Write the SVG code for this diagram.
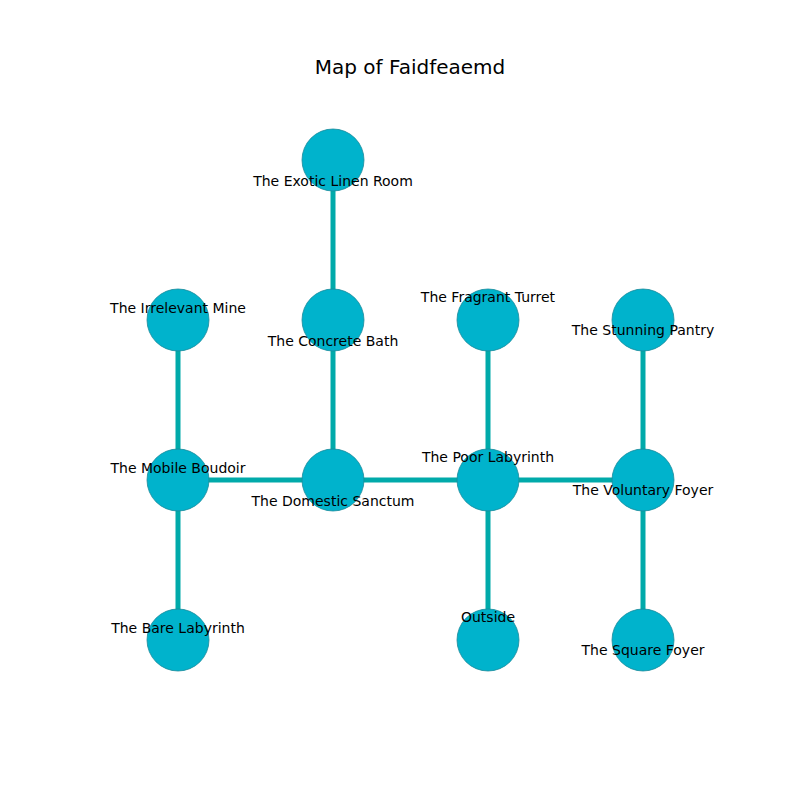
<svg xmlns="http://www.w3.org/2000/svg" width="800" height="800" viewBox="0 0 800 800">
<style>
.e{stroke:#00aaaa;stroke-width:5;fill:none}
.n circle{fill:#00b3cc;stroke:#1a8a9a;stroke-width:0.8}
text{font-family:"DejaVu Sans",sans-serif;font-size:14px;fill:#000;text-anchor:middle}
.t{font-size:20px}
</style>
<rect width="800" height="800" fill="#fff"/>
<text class="t" x="410" y="74">Map of Faidfeaemd</text>
<g id="edges">
<line class="e" x1="333" y1="160" x2="333" y2="320"/>
<line class="e" x1="333" y1="320" x2="333" y2="480"/>
<line class="e" x1="178" y1="320" x2="178" y2="480"/>
<line class="e" x1="178" y1="480" x2="178" y2="640"/>
<line class="e" x1="178" y1="480" x2="333" y2="480"/>
<line class="e" x1="333" y1="480" x2="488" y2="480"/>
<line class="e" x1="488" y1="480" x2="643" y2="480"/>
<line class="e" x1="488" y1="320" x2="488" y2="480"/>
<line class="e" x1="488" y1="480" x2="488" y2="640"/>
<line class="e" x1="643" y1="320" x2="643" y2="480"/>
<line class="e" x1="643" y1="480" x2="643" y2="640"/>
</g>
<g id="exotic" class="n"><circle cx="333" cy="160" r="31"/><text x="333" y="186">The Exotic Linen Room</text></g>
<g id="irrelevant" class="n"><circle cx="178" cy="320" r="31"/><text x="178" y="313">The Irrelevant Mine</text></g>
<g id="concrete" class="n"><circle cx="333" cy="320" r="31"/><text x="333" y="346">The Concrete Bath</text></g>
<g id="fragrant" class="n"><circle cx="488" cy="320" r="31"/><text x="488" y="302">The Fragrant Turret</text></g>
<g id="stunning" class="n"><circle cx="643" cy="320" r="31"/><text x="643" y="335">The Stunning Pantry</text></g>
<g id="mobile" class="n"><circle cx="178" cy="480" r="31"/><text x="178" y="473">The Mobile Boudoir</text></g>
<g id="domestic" class="n"><circle cx="333" cy="480" r="31"/><text x="333" y="506">The Domestic Sanctum</text></g>
<g id="poor" class="n"><circle cx="488" cy="480" r="31"/><text x="488" y="462">The Poor Labyrinth</text></g>
<g id="voluntary" class="n"><circle cx="643" cy="480" r="31"/><text x="643" y="495">The Voluntary Foyer</text></g>
<g id="bare" class="n"><circle cx="178" cy="640" r="31"/><text x="178" y="633">The Bare Labyrinth</text></g>
<g id="outside" class="n"><circle cx="488" cy="640" r="31"/><text x="488" y="622">Outside</text></g>
<g id="square" class="n"><circle cx="643" cy="640" r="31"/><text x="643" y="655">The Square Foyer</text></g>
</svg>
